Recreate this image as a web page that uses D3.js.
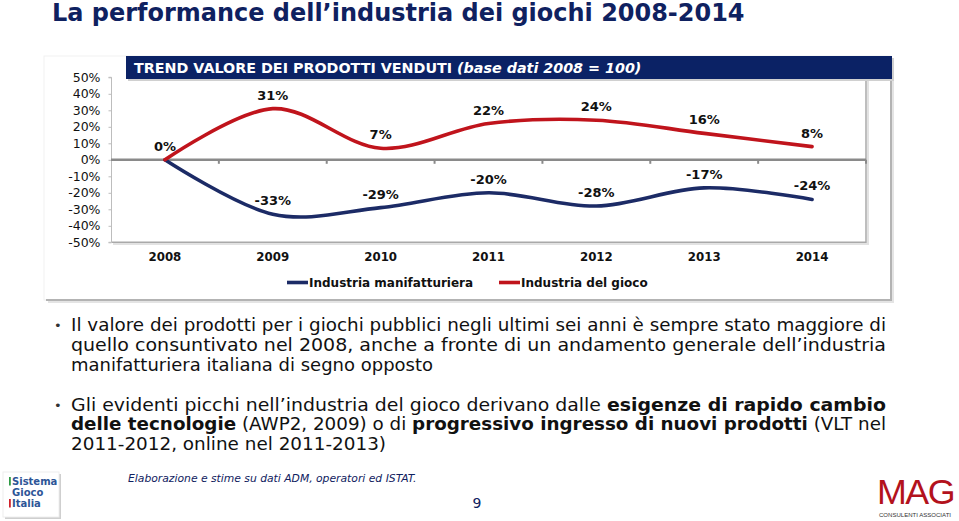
<!DOCTYPE html>
<html><head><meta charset="utf-8">
<script src="https://cdn.jsdelivr.net/npm/d3@7"></script>
<style>body{margin:0;background:#fff}svg{display:block}</style>
</head><body>
<svg id="c" width="959" height="521"></svg>
<script>
const years = ["2008","2009","2010","2011","2012","2013","2014"];
const manifatturiera = [0,-33,-29,-20,-28,-17,-24];
const gioco = [0,31,7,22,24,16,8];
const yTicks = [50,40,30,20,10,0,-10,-20,-30,-40,-50];
const seriesNames = ["Industria manifatturiera","Industria del gioco"];
const pageTitle = "La performance dell\u2019industria dei giochi 2008-2014";
const chartTitle = "TREND VALORE DEI PRODOTTI VENDUTI ";
const chartTitleIt = "(base dati 2008 = 100)";
const bullets = [
  [[["Il valore dei prodotti per i giochi pubblici negli ultimi sei anni è sempre stato maggiore di",0]],
   [["quello consuntivato nel 2008, anche a fronte di un andamento generale dell\u2019industria",0]],
   [["manifatturiera italiana di segno opposto",0]]],
  [[["Gli evidenti picchi nell\u2019industria del gioco derivano dalle ",0],["esigenze di rapido cambio",1]],
   [["delle tecnologie",1],[" (AWP2, 2009) o di ",0],["progressivo ingresso di nuovi prodotti",1],[" (VLT nel",0]],
   [["2011-2012, online nel 2011-2013)",0]]]
];
const footnote = "Elaborazione e stime su dati ADM, operatori ed ISTAT.";

const NAVY = "#0f2160", RED = "#c0141c", BLUE = "#1c2b66";
const FONT = "'DejaVu Sans', Verdana, sans-serif";
const svg = d3.select("#c").style("font-family", FONT);

function fit(sel, w){ const n=sel.node(); const cur=n.getComputedTextLength(); const fs=parseFloat(sel.attr("font-size")); sel.attr("font-size", fs*w/cur); }

// page title
const t = svg.append("text").attr("x",52).attr("y",21).attr("font-size",22).attr("font-weight","bold").attr("fill",NAVY).text(pageTitle);
fit(t, 693);

// outer chart frame
svg.append("rect").attr("x",44).attr("y",56).attr("width",847).attr("height",244).attr("fill","#fff").attr("stroke","#f1f1f1");
svg.append("path").attr("d","M891,60V300H46").attr("fill","none").attr("stroke","#b3b3b3").attr("stroke-width",2);
svg.append("path").attr("d","M893,62V302H48").attr("fill","none").attr("stroke","#e4e4e4").attr("stroke-width",2);

// scales
const x = d3.scalePoint().domain(years).range([111,866]).padding(0.5);
const xb = d3.scaleBand().domain(years).range([111,866]);
const y = d3.scaleLinear().domain([-50,50]).range([242.3,77.3]);

// plot area borders
svg.append("path").attr("d",`M868,79V244H113`).attr("fill","none").attr("stroke","#e2e2e2").attr("stroke-width",2);
svg.append("path").attr("d",`M866,79V242.3H111.5`).attr("fill","none").attr("stroke","#a9a9a9").attr("stroke-width",1.5);

// y axis
const ya = svg.append("g").attr("transform","translate(111.5,0)")
  .call(d3.axisLeft(y).tickValues(yTicks).tickFormat(d=>d+"%").tickSize(3).tickPadding(8));
ya.select(".domain").attr("stroke","#bdbdbd").attr("d",`M-3,${y(50)}H0V${y(-50)}H-3`);
ya.selectAll(".tick line").attr("stroke","#bdbdbd");
ya.selectAll(".tick text").attr("font-size",12.5).attr("font-family",FONT).attr("fill","#111");

// zero line with category boundary ticks
svg.append("line").attr("x1",111).attr("x2",866).attr("y1",y(0)).attr("y2",y(0)).attr("stroke","#8a8a8a").attr("stroke-width",2.5);
svg.selectAll(".zt").data(years.slice(1).concat(["end"])).enter().append("line")
  .attr("x1",d=>d==="end"?866:xb(d)).attr("x2",d=>d==="end"?866:xb(d))
  .attr("y1",y(0)).attr("y2",y(0)+4).attr("stroke","#8a8a8a").attr("stroke-width",2);

// x labels
svg.selectAll(".xl").data(years).enter().append("text")
  .attr("x",d=>x(d)).attr("y",261).attr("text-anchor","middle")
  .attr("font-size",11.8).attr("font-weight","bold").attr("fill","#111").text(d=>d);

// lines
const line = d3.line().x((d,i)=>x(years[i])).y(d=>y(d)).curve(d3.curveCatmullRom.alpha(0));
svg.append("path").datum(manifatturiera).attr("d",line).attr("fill","none").attr("stroke",BLUE).attr("stroke-width",3.6).attr("stroke-linecap","round");
svg.append("path").datum(gioco).attr("d",line).attr("fill","none").attr("stroke",RED).attr("stroke-width",3.6).attr("stroke-linecap","round");

// data labels
function labels(vals, skipFirst){
  svg.selectAll(null).data(vals.map((v,i)=>({v,i})).filter(d=>!(skipFirst&&d.i===0))).enter().append("text")
    .attr("x",d=>x(years[d.i])).attr("y",d=>y(d.v)-9).attr("text-anchor","middle")
    .attr("font-size",13).attr("font-weight","bold").attr("fill","#111").text(d=>d.v+"%");
}
labels(gioco,false);
labels(manifatturiera,true);

// chart title bar
svg.append("rect").attr("x",128).attr("y",58).attr("width",766).attr("height",23).attr("fill","#d0d0d0");
svg.append("rect").attr("x",126).attr("y",56).attr("width",766).attr("height",23).attr("fill","#0b2265");
const ct = svg.append("text").attr("x",134).attr("y",73).attr("font-size",14).attr("font-weight","bold").attr("fill","#fff");
ct.append("tspan").text(chartTitle);
ct.append("tspan").attr("font-style","italic").text(chartTitleIt);
fit(ct, 508);

// legend
const lg = [{n:seriesNames[0],c:BLUE,x:287},{n:seriesNames[1],c:RED,x:499}];
lg.forEach(l=>{
  svg.append("line").attr("x1",l.x).attr("x2",l.x+21).attr("y1",282.5).attr("y2",282.5).attr("stroke",l.c).attr("stroke-width",3.6);
  svg.append("text").attr("x",l.x+22).attr("y",287).attr("font-size",12).attr("font-weight","bold").attr("fill","#111").text(l.n);
});

// bullets text
const lineTargets = [[331,815],[351,815],[370.5,362],[410.5,815],[430,815],[449.5,315]];
let li=0;
bullets.forEach((b,bi)=>{
  svg.append("text").attr("x",54).attr("y",lineTargets[li][0]-1).attr("font-size",13).attr("fill","#333").text("\u2022");
  b.forEach(ln=>{
    const [yy,w] = lineTargets[li++];
    const tx = svg.append("text").attr("x",71).attr("y",yy).attr("font-size",17.5).attr("fill","#111")
      .attr("textLength",w).attr("lengthAdjust","spacingAndGlyphs");
    ln.forEach(([s,bold])=>tx.append("tspan").attr("font-weight",bold?"bold":"normal").text(s));
  });
});

// footnote & page number
const fn = svg.append("text").attr("x",128).attr("y",482).attr("font-size",12).attr("font-style","italic").attr("fill",NAVY).text(footnote);
fit(fn, 289);
svg.append("text").attr("x",477).attr("y",508).attr("text-anchor","middle").attr("font-size",14).attr("fill",NAVY).text("9");

// logo Sistema Gioco Italia
svg.append("rect").attr("x",5).attr("y",474).attr("width",56).attr("height",45).attr("fill","#cfcfcf");
svg.append("rect").attr("x",3).attr("y",472).attr("width",56).attr("height",45).attr("fill","#fff").attr("stroke","#eee");
const lgT = [["Sistema","#2e9a44",485],["Gioco","#ffffff",496],["Italia","#d0202a",507]];
lgT.forEach(([s,c,yy])=>{
  svg.append("rect").attr("x",9).attr("y",yy-8).attr("width",1.8).attr("height",8.5).attr("fill",c);
  svg.append("text").attr("x",12).attr("y",yy).attr("font-size",10).attr("font-weight","bold").attr("fill","#2d5597").text(s);
});

// MAG logo
svg.append("text").attr("x",877).attr("y",504).attr("font-size",35).attr("font-family","'Liberation Sans', Arial, sans-serif").attr("fill","#b3121c").attr("letter-spacing",-1.5).attr("textLength",77).attr("lengthAdjust","spacingAndGlyphs").text("MAG");
svg.append("text").attr("x",879).attr("y",517).attr("font-size",6).attr("font-family","'Liberation Sans', Arial, sans-serif").attr("fill","#333").attr("textLength",72).attr("lengthAdjust","spacingAndGlyphs").text("CONSULENTI ASSOCIATI");
</script>
</body></html>
